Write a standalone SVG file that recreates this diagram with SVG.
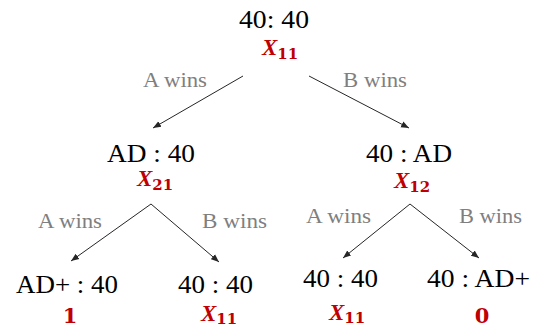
<svg xmlns="http://www.w3.org/2000/svg" width="534" height="328" viewBox="0 0 534 328">
<style>
.st{font-family:'Liberation Serif','Times New Roman',serif;font-size:26px;fill:#000}
.lb{font-family:'Liberation Serif','Times New Roman',serif;font-size:22px;fill:#7f7f7f}
.xv{font-family:'Liberation Serif','Times New Roman',serif;font-size:23px;font-weight:bold;font-style:italic;fill:#c00000}
.sub{font-family:'DejaVu Serif',serif;font-size:15px;font-weight:bold;font-style:normal;fill:#c00000}
.num{font-family:'DejaVu Serif',serif;font-size:21px;font-weight:bold;fill:#c00000}
.ed{stroke:#262626;stroke-width:1;fill:none;marker-end:url(#ah)}
</style>
<defs>
<marker id="ah" markerUnits="userSpaceOnUse" markerWidth="9" markerHeight="8" refX="8" refY="4" orient="auto">
<path d="M0,0.8 L8,4 L0,7.2 Z" fill="#262626"/>
</marker>
</defs>
<g id="connectors">
<line class="ed" x1="243" y1="76" x2="153" y2="128"/>
<line class="ed" x1="309" y1="76" x2="409" y2="128"/>
<line class="ed" x1="151" y1="204" x2="71" y2="261"/>
<line class="ed" x1="151" y1="204" x2="219" y2="262"/>
<line class="ed" x1="410" y1="204" x2="343" y2="258"/>
<line class="ed" x1="410" y1="204" x2="479" y2="258"/>
</g>
<g id="labels">
<text class="lb" x="143" y="87" textLength="64" lengthAdjust="spacingAndGlyphs">A wins</text>
<text class="lb" x="343" y="87" textLength="64" lengthAdjust="spacingAndGlyphs">B wins</text>
<text class="lb" x="38" y="228" textLength="64" lengthAdjust="spacingAndGlyphs">A wins</text>
<text class="lb" x="202" y="228" textLength="65" lengthAdjust="spacingAndGlyphs">B wins</text>
<text class="lb" x="306" y="223" textLength="65" lengthAdjust="spacingAndGlyphs">A wins</text>
<text class="lb" x="459" y="223" textLength="63" lengthAdjust="spacingAndGlyphs">B wins</text>
</g>
<g id="n_root">
<text class="st" x="239" y="28" textLength="70" lengthAdjust="spacingAndGlyphs">40: 40</text>
<text class="xv" x="262" y="55">X<tspan class="sub" dy="4">11</tspan></text>
</g>
<g id="n_ad40">
<text class="st" x="107" y="162" textLength="88" lengthAdjust="spacingAndGlyphs">AD : 40</text>
<text class="xv" x="137" y="186">X<tspan class="sub" dy="4">21</tspan></text>
</g>
<g id="n_40ad">
<text class="st" x="366" y="162" textLength="86" lengthAdjust="spacingAndGlyphs">40 : AD</text>
<text class="xv" x="394" y="188">X<tspan class="sub" dy="4">12</tspan></text>
</g>
<g id="n_adplus40">
<text class="st" x="16" y="293" textLength="102" lengthAdjust="spacingAndGlyphs">AD+ : 40</text>
<text class="num" x="70" y="323" text-anchor="middle">1</text>
</g>
<g id="n_4040_left">
<text class="st" x="178" y="293" textLength="75" lengthAdjust="spacingAndGlyphs">40 : 40</text>
<text class="xv" x="201" y="321">X<tspan class="sub" dy="3">11</tspan></text>
</g>
<g id="n_4040_right">
<text class="st" x="303" y="287" textLength="75" lengthAdjust="spacingAndGlyphs">40 : 40</text>
<text class="xv" x="329" y="320">X<tspan class="sub" dy="3">11</tspan></text>
</g>
<g id="n_40adplus">
<text class="st" x="427" y="287" textLength="103" lengthAdjust="spacingAndGlyphs">40 : AD+</text>
<text class="num" x="482" y="323" text-anchor="middle">0</text>
</g>
</svg>
